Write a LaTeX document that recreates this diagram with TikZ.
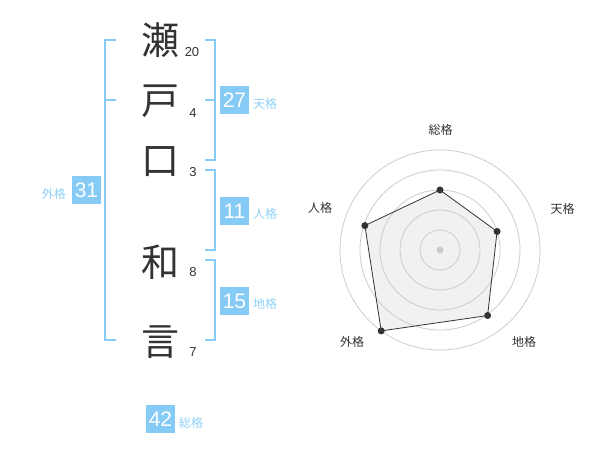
\documentclass[tikz,border=0pt]{standalone}
\usepackage{fontspec}
\setmainfont{Liberation Sans}
\newfontfamily\cjk{Noto Sans CJK JP}
\definecolor{brk}{HTML}{86CBF6}
\definecolor{boxc}{HTML}{86CBF6}
\definecolor{lbl}{HTML}{8ED0F7}
\definecolor{ink}{HTML}{333333}
\definecolor{ring}{HTML}{CCCCCC}
\definecolor{polyfill}{HTML}{F1F1F1}
\tikzset{
  kanji/.style={font=\cjk\fontsize{38}{38}\selectfont, text=ink, inner sep=0pt},
  strokes/.style={font=\fontsize{13}{13}\selectfont, text=ink, inner sep=0pt},
  numbox/.style={fill=boxc, text=white, font=\fontsize{21}{21}\selectfont, minimum width=29pt, minimum height=28pt, inner sep=0pt},
  kaku/.style={font=\cjk\fontsize{12}{12}\selectfont, text=lbl, inner sep=0pt},
  bracket/.style={draw=brk, line width=2pt},
  radlbl/.style={font=\cjk\fontsize{12}{12}\selectfont, text=ink, inner sep=0pt},
  ringline/.style={draw=ring, line width=0.8pt},
  dot/.style={circle, fill=ink, inner sep=0pt, minimum size=7pt}
}
\begin{document}
\begin{tikzpicture}[x=1pt,y=-1pt]
\useasboundingbox (0,0) rectangle (600,470);
% name characters
\node[kanji] (k1) at (160,40) {瀬};
\node[kanji] (k2) at (160,101) {戸};
\node[kanji] (k3) at (160,162) {口};
\node[kanji] (k4) at (160,262) {和};
\node[kanji] (k5) at (160,342) {言};
% stroke counts
\node[strokes] (s1) at (192,52.5) {20};
\node[strokes] (s2) at (193,113) {4};
\node[strokes] (s3) at (193,172.5) {3};
\node[strokes] (s4) at (193,272.5) {8};
\node[strokes] (s5) at (193,352.5) {7};
% brackets
\draw[bracket] (116,40) -- (105,40) -- (105,340) -- (116,340);
\draw[bracket] (105,100) -- (116,100);
\draw[bracket] (205,40) -- (215,40) -- (215,160) -- (205,160);
\draw[bracket] (205,100) -- (215,100);
\draw[bracket] (205,170) -- (215,170) -- (215,250) -- (205,250);
\draw[bracket] (205,260) -- (215,260) -- (215,340) -- (205,340);
% boxes and labels
\node[numbox] (b27) at (234.5,100) {27};
\node[kaku, anchor=west] (l27) at (253,104) {天格};
\node[numbox] (b11) at (234.5,211) {11};
\node[kaku, anchor=west] (l11) at (253,214) {人格};
\node[numbox] (b15) at (234.5,301) {15};
\node[kaku, anchor=west] (l15) at (253,304) {地格};
\node[numbox] (b31) at (86.5,190) {31};
\node[kaku, anchor=east] (l31) at (66,194) {外格};
\node[numbox] (b42) at (160.5,419) {42};
\node[kaku, anchor=west] (l42) at (179,423) {総格};
% radar
\begin{scope}[shift={(440,250)}]
  \coordinate (p1) at (-90:60);
  \coordinate (p2) at (-18:60);
  \coordinate (p3) at (54:81);
  \coordinate (p4) at (126:100);
  \coordinate (p5) at (198:79);
  \fill[polyfill] (p1) -- (p2) -- (p3) -- (p4) -- (p5) -- cycle;
  \foreach \r in {20,40,60,80,100} \draw[ringline] (0,0) circle[radius=\r];
  \fill[ring] (0,0) circle[radius=3.5];
  \draw[ink, line width=0.8pt] (p1) -- (p2) -- (p3) -- (p4) -- (p5) -- cycle;
  \foreach \p in {p1,p2,p3,p4,p5} \node[dot] at (\p) {};
\end{scope}
\node[radlbl] (r1) at (440.5,130) {総格};
\node[radlbl] (r2) at (562.5,208.5) {天格};
\node[radlbl] (r3) at (524,342) {地格};
\node[radlbl] (r4) at (352,342) {外格};
\node[radlbl] (r5) at (320,208) {人格};
\end{tikzpicture}
\end{document}
